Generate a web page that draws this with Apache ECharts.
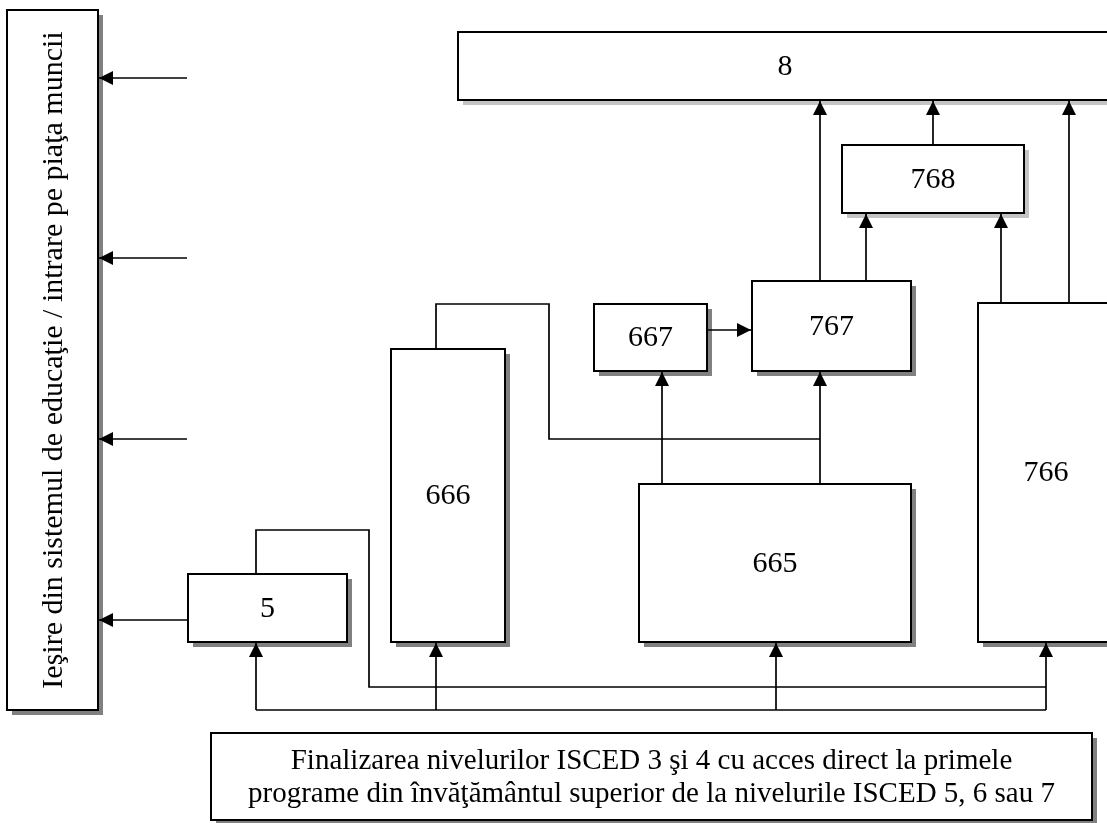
<!DOCTYPE html>
<html>
<head>
<meta charset="utf-8">
<script src="https://cdn.jsdelivr.net/npm/echarts@6/dist/echarts.min.js"></script>
<style>html,body{margin:0;padding:0;background:#fff}#c{width:1107px;height:823px}</style>
</head>
<body>
<div id="c"></div>
<script>
// Box labels
const boxLabels = [
  'Ieşire din sistemul de educaţie / intrare pe piaţa muncii',
  '8', '768', '767', '667', '666', '665', '766', '5',
  'Finalizarea nivelurilor ISCED 3 şi 4 cu acces direct la primele\nprograme din învăţământul superior de la nivelurile ISCED 5, 6 sau 7'
];
// Box extents in diagram units: [left, top, right, bottom]
const boxExtents = [
  [7, 10, 98, 710],
  [458, 32, 1112, 100],
  [842, 145, 1024, 213],
  [752, 281, 911, 371],
  [594, 304, 707, 371],
  [391, 349, 505, 642],
  [639, 484, 911, 642],
  [978, 303, 1114, 642],
  [188, 574, 347, 642],
  [211, 733, 1092, 820]
];
const boxVertical = [true, false, false, false, false, false, false, false, false, false];
const boxShade = ['dark', 'light', 'light', 'dark', 'dark', 'dark', 'dark', 'dark', 'dark', 'dark'];
const boxLabelSize = [30, 30, 30, 30, 30, 30, 30, 30, 30, 29];

// Connectors (polylines in diagram units) and whether they end in an arrowhead
const connectors = [
  [[187, 78], [99, 78]],
  [[187, 258], [99, 258]],
  [[187, 439], [99, 439]],
  [[188, 620], [99, 620]],
  [[256, 574], [256, 530], [369, 530], [369, 687], [1046, 687]],
  [[256, 710], [1046, 710]],
  [[256, 710], [256, 643]],
  [[436, 710], [436, 643]],
  [[776, 710], [776, 643]],
  [[1046, 710], [1046, 643]],
  [[436, 349], [436, 304], [549, 304], [549, 439], [820, 439]],
  [[662, 484], [662, 372]],
  [[820, 484], [820, 372]],
  [[707, 330], [751, 330]],
  [[820, 281], [820, 101]],
  [[866, 281], [866, 214]],
  [[933, 145], [933, 101]],
  [[1001, 303], [1001, 214]],
  [[1069, 303], [1069, 101]]
];
const connectorArrow = [true, true, true, true, false, false, true, true, true, true, false, true, true, true, true, true, true, true, true];

const FONT = '"Liberation Serif", "Times New Roman", serif';
const chart = echarts.init(document.getElementById('c'), null, {renderer: 'canvas'});

function renderBox(params, api) {
  const i = params.dataIndex;
  const p0 = api.coord([api.value(0), api.value(1)]);
  const p1 = api.coord([api.value(2), api.value(3)]);
  const x = Math.min(p0[0], p1[0]), y = Math.min(p0[1], p1[1]);
  const w = Math.abs(p1[0] - p0[0]), h = Math.abs(p1[1] - p0[1]);
  const cx = x + w / 2, cy = y + h / 2;
  const children = [
    {type: 'rect', shape: {x: x + 5, y: y + 5, width: w, height: h},
     style: {fill: boxShade[i] === 'light' ? '#c4c4c4' : '#808080'}},
    {type: 'rect', shape: {x: x, y: y, width: w, height: h},
     style: {fill: '#fff', stroke: '#000', lineWidth: 2}}
  ];
  if (boxVertical[i]) {
    children.push({type: 'text', x: cx + 2, y: cy, rotation: Math.PI / 2,
      style: {text: boxLabels[i], x: 0, y: 0, align: 'center', verticalAlign: 'middle',
        fontSize: boxLabelSize[i], fontFamily: FONT, fill: '#000'}});
  } else {
    children.push({type: 'text',
      style: {text: boxLabels[i], x: cx, y: cy + 1, align: 'center', verticalAlign: 'middle',
        fontSize: boxLabelSize[i], fontFamily: FONT, fill: '#000', lineHeight: 33}});
  }
  return {type: 'group', children: children};
}

function renderConnector(params, api) {
  const i = params.dataIndex;
  const pts = connectors[i].map(p => api.coord(p));
  const children = [{type: 'polyline', shape: {points: pts},
    style: {stroke: '#000', lineWidth: 1.7, fill: null}}];
  if (connectorArrow[i]) {
    const a = pts[pts.length - 2], b = pts[pts.length - 1];
    const dx = b[0] - a[0], dy = b[1] - a[1];
    const len = Math.sqrt(dx * dx + dy * dy);
    const ux = dx / len, uy = dy / len;
    const L = 14, W = 7;
    const bx = b[0] - ux * L, by = b[1] - uy * L;
    children.push({type: 'polygon', shape: {points: [
      [b[0], b[1]], [bx - uy * W, by + ux * W], [bx + uy * W, by - ux * W]]},
      style: {fill: '#000'}});
  }
  return {type: 'group', children: children};
}

chart.setOption({
  animation: false,
  grid: {left: 0, right: 0, top: 0, bottom: 0},
  xAxis: {type: 'value', min: 0, max: 1107, show: false},
  yAxis: {type: 'value', min: 0, max: 823, inverse: true, show: false},
  series: [
    {type: 'custom', renderItem: renderBox, clip: false,
     data: boxExtents.map(b => b.slice()), z: 2},
    {type: 'custom', renderItem: renderConnector, clip: false,
     data: connectors.map(c => [c[0][0], c[0][1]]), z: 3}
  ]
});
</script>
</body>
</html>
